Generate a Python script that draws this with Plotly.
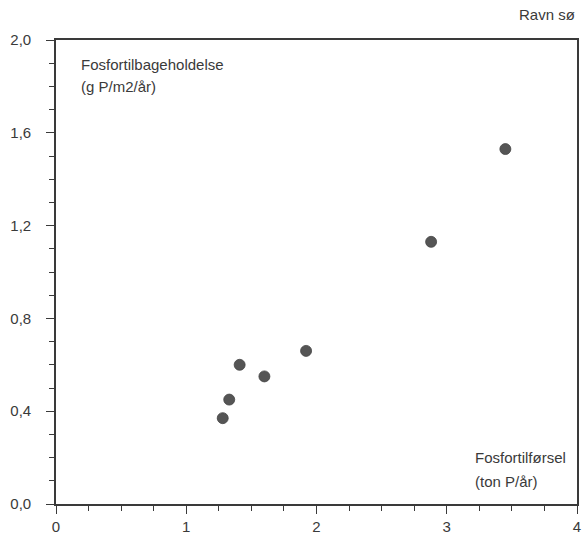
import plotly.graph_objects as go

# Data
phosphorus_load = [1.28, 1.33, 1.41, 1.60, 1.92, 2.88, 3.45]      # ton P/år
phosphorus_retention = [0.37, 0.45, 0.60, 0.55, 0.66, 1.13, 1.53]  # g P/m2/år
x_range = [0, 4]
y_range = [0, 2.0]

FONT = "Liberation Sans, Arial, Helvetica, sans-serif"
INK = "#3a3a3a"

fig = go.Figure()
fig.add_trace(go.Scatter(
    x=phosphorus_load, y=phosphorus_retention, mode="markers",
    marker=dict(size=11, color="#555555", line=dict(width=0.8, color="#444444")),
    showlegend=False, hoverinfo="x+y",
))

axis_common = dict(
    showline=True, linecolor=INK, linewidth=1.6, mirror=True,
    showgrid=False, zeroline=False, ticks="outside", tickcolor=INK,
    tickwidth=1.2, ticklen=8, automargin=False,
    tickfont=dict(family=FONT, size=15, color=INK),
)

fig.update_xaxes(
    range=x_range, dtick=1, tick0=0, tickformat="d",
    minor=dict(dtick=0.25, ticks="outside", ticklen=5, tickcolor=INK,
               tickwidth=1.2, showgrid=False),
    ticklabelstandoff=0,
    **axis_common,
)
fig.update_yaxes(
    range=y_range, dtick=0.4, tick0=0, tickformat=".1f",
    minor=dict(dtick=0.1, ticks="outside", ticklen=5, tickcolor=INK,
               tickwidth=1.2, showgrid=False),
    ticklabelstandoff=12,
    **axis_common,
)

ann_font = dict(family=FONT, size=15, color=INK)
fig.add_annotation(x=0.18, y=1.895, xref="x", yref="y", text="Fosfortilbageholdelse",
                   showarrow=False, xanchor="left", yanchor="middle", font=ann_font)
fig.add_annotation(x=0.18, y=1.80, xref="x", yref="y", text="(g P/m2/år)",
                   showarrow=False, xanchor="left", yanchor="middle", font=ann_font)
fig.add_annotation(x=3.2, y=0.2, xref="x", yref="y", text="Fosfortilførsel",
                   showarrow=False, xanchor="left", yanchor="middle", font=ann_font)
fig.add_annotation(x=3.2, y=0.095, xref="x", yref="y", text="(ton P/år)",
                   showarrow=False, xanchor="left", yanchor="middle", font=ann_font)
fig.add_annotation(x=1.0, y=1.055, xref="paper", yref="paper", text="Ravn sø",
                   showarrow=False, xanchor="right", yanchor="middle", font=ann_font)

fig.update_layout(
    width=586, height=536,
    margin=dict(l=56, r=9, t=40, b=32),
    paper_bgcolor="white", plot_bgcolor="white",
    separators=", ",
    font=dict(family=FONT, color=INK),
)

fig.write_html("out.html")
